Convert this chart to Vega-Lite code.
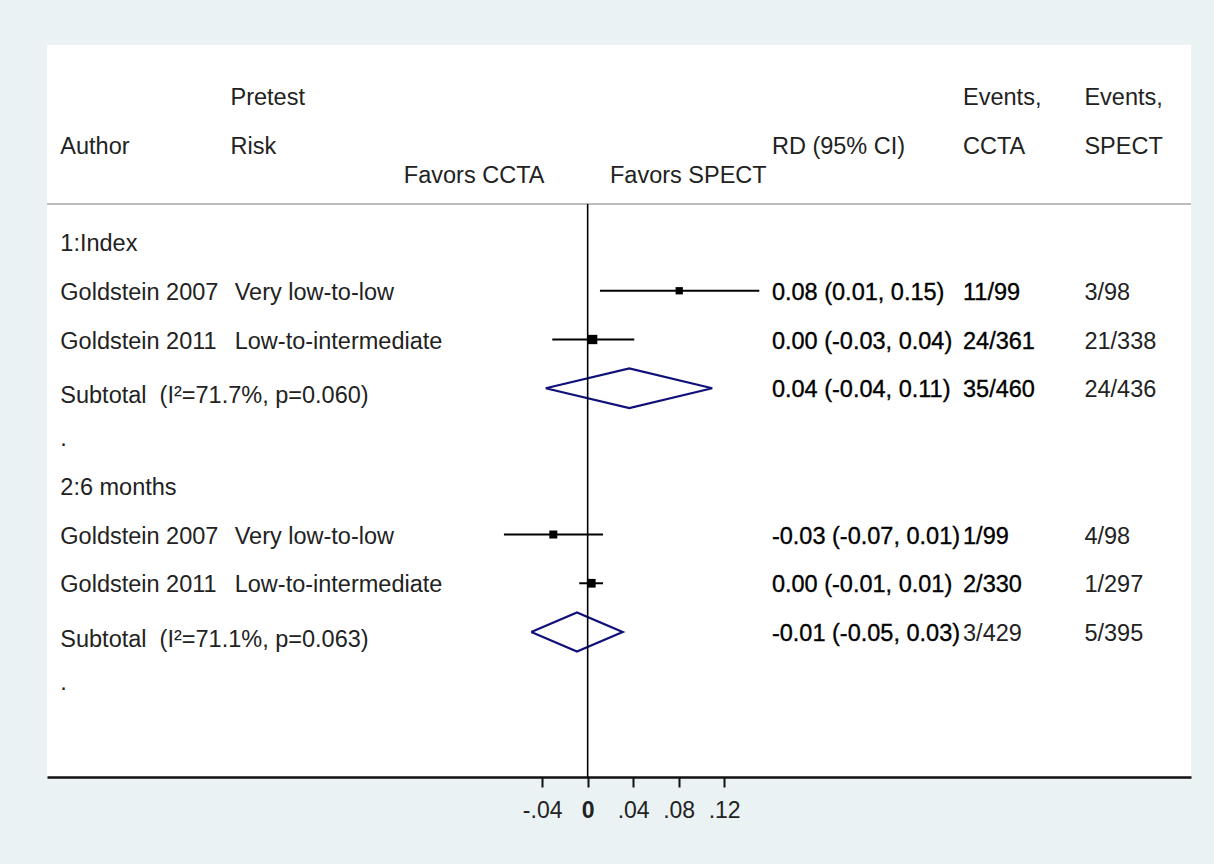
{
  "$schema": "https://vega.github.io/schema/vega-lite/v6.json",
  "width": 1144,
  "height": 732,
  "autosize": "none",
  "padding": {"left": 47, "top": 45, "right": 23, "bottom": 87},
  "background": "#EAF2F3",
  "config": {"view": {"fill": "white", "stroke": null}, "font": "Liberation Sans"},
  "datasets": {
    "studies": [
      {"row": 1, "lo": 0.0108, "est": 0.0805, "hi": 0.1509, "weight": 38},
      {"row": 2, "lo": -0.0311, "est": 0.0044, "hi": 0.041, "weight": 62},
      {"row": 6, "lo": -0.0736, "est": -0.0302, "hi": 0.0135, "weight": 45.8},
      {"row": 7, "lo": -0.0074, "est": 0.0032, "hi": 0.0135, "weight": 54.2}
    ],
    "diamonds": [
      {"sub": 1, "ord": 0, "x": -0.0369, "y": 3},
      {"sub": 1, "ord": 1, "x": 0.0366, "y": 2.593},
      {"sub": 1, "ord": 2, "x": 0.1095, "y": 3},
      {"sub": 1, "ord": 3, "x": 0.0366, "y": 3.407},
      {"sub": 1, "ord": 4, "x": -0.0369, "y": 3},
      {"sub": 2, "ord": 0, "x": -0.0496, "y": 8},
      {"sub": 2, "ord": 1, "x": -0.0094, "y": 7.6},
      {"sub": 2, "ord": 2, "x": 0.0308, "y": 8},
      {"sub": 2, "ord": 3, "x": -0.0094, "y": 8.4},
      {"sub": 2, "ord": 4, "x": -0.0496, "y": 8}
    ],
    "labels": [
      {"row": -3, "col": "riskhdr", "text": "Pretest", "emph": false},
      {"row": -3, "col": "ccta", "text": "Events,", "emph": false},
      {"row": -3, "col": "spect", "text": "Events,", "emph": false},
      {"row": -2, "col": "author", "text": "Author", "emph": false},
      {"row": -2, "col": "riskhdr", "text": "Risk", "emph": false},
      {"row": -2, "col": "rd", "text": "RD (95% CI)", "emph": false},
      {"row": -2, "col": "ccta", "text": "CCTA", "emph": false},
      {"row": -2, "col": "spect", "text": "SPECT", "emph": false},
      {"row": -1.4, "col": "favccta", "text": "Favors CCTA", "emph": false},
      {"row": -1.4, "col": "favspect", "text": "Favors SPECT", "emph": false},
      {"row": 0, "col": "author", "text": "1:Index", "emph": false},
      {"row": 1, "col": "author", "text": "Goldstein 2007", "emph": false},
      {"row": 1, "col": "risk", "text": "Very low-to-low", "emph": false},
      {"row": 1, "col": "rd", "text": "0.08 (0.01, 0.15)", "emph": true},
      {"row": 1, "col": "ccta", "text": "11/99", "emph": true},
      {"row": 1, "col": "spect", "text": "3/98", "emph": false},
      {"row": 2, "col": "author", "text": "Goldstein 2011", "emph": false},
      {"row": 2, "col": "risk", "text": "Low-to-intermediate", "emph": false},
      {"row": 2, "col": "rd", "text": "0.00 (-0.03, 0.04)", "emph": true},
      {"row": 2, "col": "ccta", "text": "24/361", "emph": true},
      {"row": 2, "col": "spect", "text": "21/338", "emph": false},
      {"row": 3, "col": "subtotal", "text": "Subtotal\u00a0\u00a0(I²=71.7%, p=0.060)", "emph": false},
      {"row": 3, "col": "rd", "text": "0.04 (-0.04, 0.11)", "emph": true},
      {"row": 3, "col": "ccta", "text": "35/460", "emph": true},
      {"row": 3, "col": "spect", "text": "24/436", "emph": false},
      {"row": 4, "col": "author", "text": ".", "emph": false},
      {"row": 5, "col": "author", "text": "2:6 months", "emph": false},
      {"row": 6, "col": "author", "text": "Goldstein 2007", "emph": false},
      {"row": 6, "col": "risk", "text": "Very low-to-low", "emph": false},
      {"row": 6, "col": "rd", "text": "-0.03 (-0.07, 0.01)", "emph": true},
      {"row": 6, "col": "ccta", "text": "1/99", "emph": true},
      {"row": 6, "col": "spect", "text": "4/98", "emph": false},
      {"row": 7, "col": "author", "text": "Goldstein 2011", "emph": false},
      {"row": 7, "col": "risk", "text": "Low-to-intermediate", "emph": false},
      {"row": 7, "col": "rd", "text": "0.00 (-0.01, 0.01)", "emph": true},
      {"row": 7, "col": "ccta", "text": "2/330", "emph": true},
      {"row": 7, "col": "spect", "text": "1/297", "emph": false},
      {"row": 8, "col": "subtotal", "text": "Subtotal\u00a0\u00a0(I²=71.1%, p=0.063)", "emph": false},
      {"row": 8, "col": "rd", "text": "-0.01 (-0.05, 0.03)", "emph": true},
      {"row": 8, "col": "ccta", "text": "3/429", "emph": false},
      {"row": 8, "col": "spect", "text": "5/395", "emph": false},
      {"row": 9, "col": "author", "text": ".", "emph": false}
    ]
  },
  "layer": [
    {
      "data": {"name": "studies"},
      "mark": {"type": "rule", "color": "#000000", "strokeWidth": 2},
      "encoding": {
        "x": {"field": "lo", "type": "quantitative", "title": null,
          "scale": {"domain": [-0.4753, 0.5304], "nice": false, "zero": false},
          "axis": {"values": [-0.04, 0, 0.04, 0.08, 0.12], "title": null, "grid": false,
            "domainColor": "#111111", "domainWidth": 2.5, "tickColor": "#111111", "tickWidth": 2, "tickSize": 10,
            "labelFontSize": 23, "labelColor": "#222222", "labelPadding": 12, "labelFont": "Liberation Sans",
            "labelExpr": "datum.value == 0 ? '0' : (datum.value < 0 ? '-' : '') + replace(format(abs(datum.value), '.2f'), '0.', '.')",
            "labelFontWeight": {"condition": {"test": "datum.value == 0", "value": "bold"}, "value": "normal"},
            "labelOverlap": false, "labelFlush": false}},
        "x2": {"field": "hi"},
        "y": {"field": "row", "type": "quantitative", "scale": {"domain": [-4.041, 10.974], "reverse": true, "nice": false, "zero": false}, "axis": null}
      }
    },
    {
      "data": {"name": "studies"},
      "mark": {"type": "point", "shape": "square", "filled": true, "color": "#000000", "opacity": 1},
      "encoding": {
        "x": {"field": "est", "type": "quantitative", "title": null},
        "y": {"field": "row", "type": "quantitative", "axis": null},
        "size": {"field": "weight", "type": "quantitative", "scale": {"domain": [0, 100], "range": [0, 140], "zero": true}, "legend": null}
      }
    },
    {
      "data": {"name": "diamonds"},
      "mark": {"type": "line", "color": "#10107A", "strokeWidth": 2.2, "strokeJoin": "miter"},
      "encoding": {
        "x": {"field": "x", "type": "quantitative", "title": null},
        "y": {"field": "y", "type": "quantitative", "axis": null},
        "order": {"field": "ord", "type": "quantitative"},
        "detail": {"field": "sub", "type": "nominal"}
      }
    },
    {
      "data": {"values": [{}]},
      "mark": {"type": "rule", "color": "#BDBDBD", "strokeWidth": 2},
      "encoding": {
        "y": {"datum": -0.78, "type": "quantitative", "axis": null}
      }
    },
    {
      "data": {"values": [{}]},
      "mark": {"type": "rule", "color": "#000000", "strokeWidth": 1.6},
      "encoding": {
        "x": {"datum": 0, "type": "quantitative", "title": null},
        "y": {"datum": -0.78, "type": "quantitative", "axis": null},
        "y2": {"datum": 10.974}
      }
    },
    {
      "data": {"name": "labels"},
      "transform": [{"filter": "datum.col == 'author'"}],
      "mark": {"type": "text", "align": "left", "baseline": "middle", "dy": 2, "fontSize": 23.5, "color": "#222222"},
      "encoding": {
        "x": {"datum": -0.4636, "type": "quantitative", "title": null},
        "y": {"field": "row", "type": "quantitative", "axis": null},
        "text": {"field": "text"}
      }
    },
    {
      "data": {"name": "labels"},
      "transform": [{"filter": "datum.col == 'subtotal'"}],
      "mark": {"type": "text", "align": "left", "baseline": "middle", "dy": 8, "fontSize": 23.5, "color": "#222222"},
      "encoding": {
        "x": {"datum": -0.4636, "type": "quantitative", "title": null},
        "y": {"field": "row", "type": "quantitative", "axis": null},
        "text": {"field": "text"}
      }
    },
    {
      "data": {"name": "labels"},
      "transform": [{"filter": "datum.col == 'riskhdr'"}],
      "mark": {"type": "text", "align": "left", "baseline": "middle", "dy": 2, "fontSize": 23.5, "color": "#222222"},
      "encoding": {
        "x": {"datum": -0.3140, "type": "quantitative", "title": null},
        "y": {"field": "row", "type": "quantitative", "axis": null},
        "text": {"field": "text"}
      }
    },
    {
      "data": {"name": "labels"},
      "transform": [{"filter": "datum.col == 'risk'"}],
      "mark": {"type": "text", "align": "left", "baseline": "middle", "dy": 2, "fontSize": 23.5, "color": "#222222"},
      "encoding": {
        "x": {"datum": -0.3103, "type": "quantitative", "title": null},
        "y": {"field": "row", "type": "quantitative", "axis": null},
        "text": {"field": "text"}
      }
    },
    {
      "data": {"name": "labels"},
      "transform": [{"filter": "datum.col == 'favccta'"}],
      "mark": {"type": "text", "align": "right", "baseline": "middle", "dy": 2, "fontSize": 23.5, "color": "#222222"},
      "encoding": {
        "x": {"datum": -0.0380, "type": "quantitative", "title": null},
        "y": {"field": "row", "type": "quantitative", "axis": null},
        "text": {"field": "text"}
      }
    },
    {
      "data": {"name": "labels"},
      "transform": [{"filter": "datum.col == 'favspect'"}],
      "mark": {"type": "text", "align": "left", "baseline": "middle", "dy": 2, "fontSize": 23.5, "color": "#222222"},
      "encoding": {
        "x": {"datum": 0.0196, "type": "quantitative", "title": null},
        "y": {"field": "row", "type": "quantitative", "axis": null},
        "text": {"field": "text"}
      }
    },
    {
      "data": {"name": "labels"},
      "transform": [{"filter": "datum.col == 'rd'"}],
      "mark": {"type": "text", "align": "left", "baseline": "middle", "dy": 2, "fontSize": 23.5, "stroke": "#000000"},
      "encoding": {
        "x": {"datum": 0.1620, "type": "quantitative", "title": null},
        "y": {"field": "row", "type": "quantitative", "axis": null},
        "text": {"field": "text"},
        "color": {"condition": {"test": "datum.emph", "value": "#000000"}, "value": "#222222"},
        "strokeWidth": {"condition": {"test": "datum.emph", "value": 0.35}, "value": 0}
      }
    },
    {
      "data": {"name": "labels"},
      "transform": [{"filter": "datum.col == 'ccta'"}],
      "mark": {"type": "text", "align": "left", "baseline": "middle", "dy": 2, "fontSize": 23.5, "stroke": "#000000"},
      "encoding": {
        "x": {"datum": 0.3300, "type": "quantitative", "title": null},
        "y": {"field": "row", "type": "quantitative", "axis": null},
        "text": {"field": "text"},
        "color": {"condition": {"test": "datum.emph", "value": "#000000"}, "value": "#222222"},
        "strokeWidth": {"condition": {"test": "datum.emph", "value": 0.35}, "value": 0}
      }
    },
    {
      "data": {"name": "labels"},
      "transform": [{"filter": "datum.col == 'spect'"}],
      "mark": {"type": "text", "align": "left", "baseline": "middle", "dy": 2, "fontSize": 23.5, "color": "#222222"},
      "encoding": {
        "x": {"datum": 0.4367, "type": "quantitative", "title": null},
        "y": {"field": "row", "type": "quantitative", "axis": null},
        "text": {"field": "text"}
      }
    }
  ]
}
